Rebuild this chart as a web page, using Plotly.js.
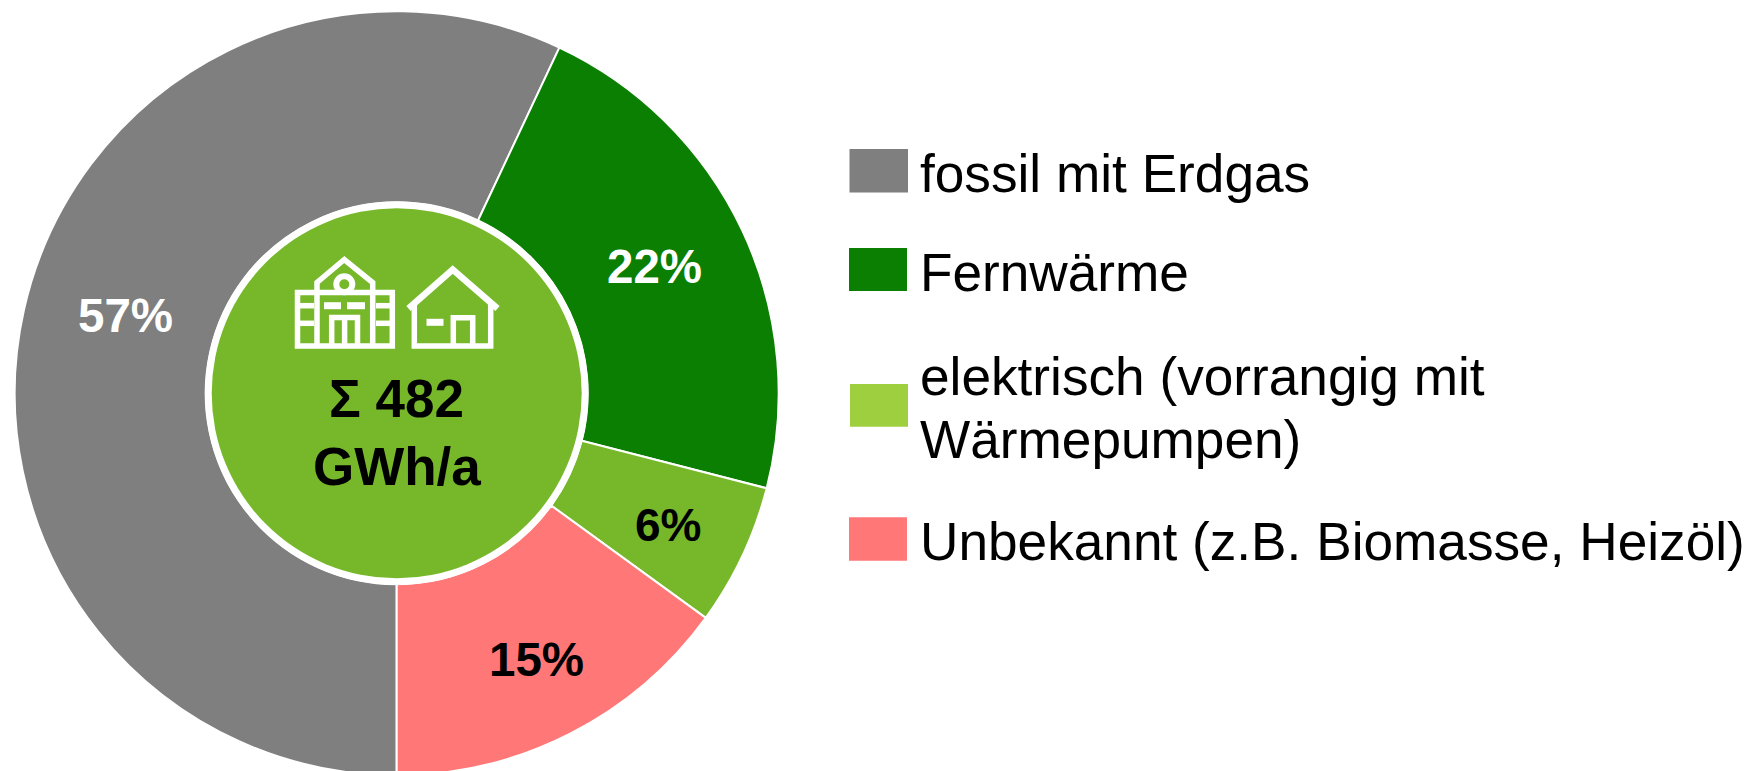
<!DOCTYPE html>
<html><head><meta charset="utf-8">
<script src="https://cdn.plot.ly/plotly-3.0.1.min.js"></script>
<style>html,body{margin:0;padding:0;background:#fff;overflow:hidden;width:1750px;height:771px}</style>
</head><body><div id="chart" style="width:1750px;height:790px"></div>
<script>
const categories = ["fossil mit Erdgas","Fernwärme","elektrisch (vorrangig mit Wärmepumpen)","Unbekannt (z.B. Biomasse, Heizöl)"];
const shares = [57,22,6,15];
const sliceColors = ["#7F7F7F","#0A7F02","#76B82A","#FF7777"];
const labelColors = ["#FFFFFF","#FFFFFF","#000000","#000000"];
const swatchColors = ["#7F7F7F","#0A7F02","#9DCF3F","#FF7777"];
const centerLines = ["Σ 482","GWh/a"];

const W=1750,H=790,FONT='"Liberation Sans", Arial, sans-serif';
const cx=396.7, cy=393.3, R=382;
const X=p=>p/W, Y=p=>1-p/H;

const shapes=[], annotations=[];
function text(t,x,baseline,size,color,bold,anchor){
  annotations.push({text:bold?`<b>${t}</b>`:t,xref:'paper',yref:'paper',x:X(x),y:Y(baseline+size*0.212),
    xanchor:anchor,yanchor:'bottom',showarrow:false,borderpad:0,borderwidth:0,
    font:{family:FONT,size:size,color:color}});
}
function circle(r,fill){shapes.push({type:'circle',xref:'paper',yref:'paper',x0:X(cx-r),x1:X(cx+r),y0:Y(cy+r),y1:Y(cy-r),fillcolor:fill,line:{width:0},layer:'above'});}
function stroke(pts,w,closed){
  const d=pts.map((p,i)=>(i?'L':'M')+X(p[0]).toFixed(6)+','+Y(p[1]).toFixed(6)).join(' ')+(closed?' Z':'');
  shapes.push({type:'path',xref:'paper',yref:'paper',path:d,line:{color:'#fff',width:w},fillcolor:'rgba(0,0,0,0)',layer:'above'});
}
circle(191.7,'#FFFFFF'); circle(185,'#76B82A');

// school icon
const lw=5.5;
stroke([[297.5,292.5],[392.3,292.5],[392.3,346],[297.5,346]],lw,true);
stroke([[317,346],[317,282.5],[344.3,259.5],[372.7,282.5],[372.7,346]],lw);
stroke([[324,305.7],[341,305.7]],7); stroke([[347,305.7],[365,305.7]],7);
stroke([[298,305.7],[314,305.7]],5.5); stroke([[376,305.7],[391,305.7]],5.5);
stroke([[298,323.3],[314,323.3]],5.5); stroke([[376,323.3],[391,323.3]],5.5);
stroke([[331.7,346],[331.7,317.5],[357.5,317.5],[357.5,346]],lw);
stroke([[344.6,320],[344.6,346]],lw);
shapes.push({type:'circle',xref:'paper',yref:'paper',x0:X(336.3),x1:X(352.3),y0:Y(292.3),y1:Y(276.3),line:{color:'#fff',width:6},fillcolor:'rgba(0,0,0,0)',layer:'above'});
// house icon
stroke([[408.5,308.5],[452.7,269.5],[497.5,308.5]],lw+1);
stroke([[414.3,303],[414.3,346],[490.7,346],[490.7,303]],lw);
stroke([[453.3,346],[453.3,317.7],[472.7,317.7],[472.7,346]],lw);
stroke([[426.5,322.3],[443.5,322.3]],7);

// centre text
text(centerLines[0],396.5,416.7,53,'#000',true,'center');
text(centerLines[1],396.8,485,53,'#000',true,'center');

// percentage labels
const labelSpots=[[125,331.7,47.5],[654.3,282.7,47.5],[668.3,541.7,46],[536.2,675.7,47.5]];
shares.forEach((v,i)=>text(v+'%',labelSpots[i][0],labelSpots[i][1],labelSpots[i][2],labelColors[i],true,'center'));

// legend
const swatches=[[849.5,149,908,192.5],[849,248,907,291],[850,384,908,426.7],[849,517.3,907,560.7]];
swatches.forEach((s,i)=>shapes.push({type:'rect',xref:'paper',yref:'paper',x0:X(s[0]),x1:X(s[2]),y0:Y(s[3]),y1:Y(s[1]),fillcolor:swatchColors[i],line:{width:0}}));
const legendSize=53.2;
text(categories[0],920,191.7,legendSize,'#000',false,'left');
text(categories[1],920,290.7,legendSize,'#000',false,'left');
text("elektrisch (vorrangig mit",920,395,legendSize,'#000',false,'left');
text("Wärmepumpen)",920,458,legendSize,'#000',false,'left');
text(categories[3],920,560,legendSize,'#000',false,'left');

Plotly.newPlot('chart',[{type:'pie',labels:categories,values:shares,sort:false,direction:'clockwise',rotation:180,
  hole:0.5,marker:{colors:sliceColors,line:{color:'#fff',width:2}},
  textinfo:'none',
  domain:{x:[X(cx-R),X(cx+R)],y:[Y(cy+R),Y(cy-R)]},hoverinfo:'label+percent'}],
 {width:W,height:H,margin:{l:0,r:0,t:0,b:0},showlegend:false,paper_bgcolor:'#fff',plot_bgcolor:'#fff',shapes,annotations},
 {displayModeBar:false,staticPlot:true});
</script></body></html>
